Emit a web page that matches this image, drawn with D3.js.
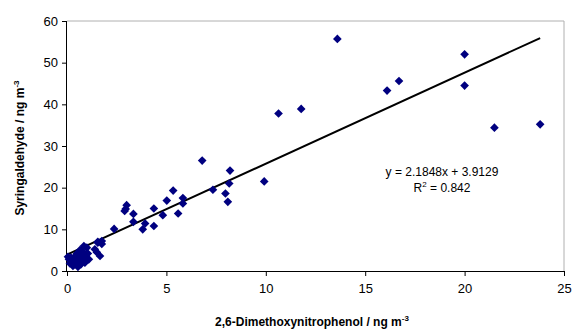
<!doctype html>
<html lang="en">
<head>
<meta charset="utf-8" />
<title>Syringaldehyde vs 2,6-Dimethoxynitrophenol</title>
<script src="https://d3js.org/d3.v7.min.js"></script>
<style>
  body { margin: 0; background: #fff; }
  text { font-family: "Liberation Sans", Arial, sans-serif; }
</style>
</head>
<body>
<svg></svg>
<script>
// data (ng m-3)
let dmnp = [0.05, 0.1, 0.15, 0.2, 0.25, 0.3, 0.35, 0.4, 0.4, 0.45, 0.5, 0.5, 0.55, 0.6, 0.6, 0.65, 0.7, 0.7, 0.75, 0.8,
            0.85, 0.85, 0.9, 0.95, 1.0, 1.05, 1.1, 1.4, 1.5, 1.55, 1.66, 1.75, 1.55, 1.75,
            2.37, 2.9, 2.95, 3.0, 3.34, 3.34, 3.81, 3.93, 4.37, 4.37, 4.82, 5.02, 5.34, 5.59, 5.83, 5.83,
            6.8, 7.34, 7.97, 8.09, 8.16, 8.2, 9.92, 10.64, 11.78, 13.6, 16.1, 16.7, 20.0, 20.0, 21.5, 23.8]
let syr  = [3.4, 2.8, 1.8, 3.2, 2.2, 1.2, 2.6, 3.5, 1.6, 2.0, 2.9, 4.2, 1.0, 3.3, 2.2, 5.0, 1.6, 3.8, 2.6, 4.6,
            3.0, 6.0, 2.0, 3.6, 5.6, 4.2, 2.8, 5.2, 4.5, 6.8, 3.6, 6.5, 7.0, 7.2,
            10.1, 14.4, 14.9, 15.8, 13.7, 11.8, 10.0, 11.4, 15.0, 10.8, 13.4, 16.9, 19.3, 13.8, 17.5, 16.2,
            26.5, 19.5, 18.6, 16.6, 21.0, 24.1, 21.5, 37.8, 38.9, 55.7, 43.3, 45.6, 52.0, 44.5, 34.4, 35.2]

let xTicks = [0, 5, 10, 15, 20, 25]
let yTicks = [0, 10, 20, 30, 40, 50, 60]

// trendline as printed on the chart
let slope = 2.1848, intercept = 3.9129, r2 = 0.842

let width = 580, height = 333

let svg = d3.select("svg")
    .attr("width", width)
    .attr("height", height)

let x = d3.scaleLinear().domain([0, 25]).range([67, 564])
let y = d3.scaleLinear().domain([0, 60]).range([271, 21])

// plot area frame (grey top/right)
svg.append("path")
    .attr("d", `M${x(0)},${y(60)}H${x(25)}V${y(0)}`)
    .attr("fill", "none")
    .attr("stroke", "#b0b0b0")
    .attr("stroke-width", 1)

let xAxis = svg.append("g")
    .attr("transform", `translate(0,${y(0)})`)
    .call(d3.axisBottom(x).tickValues(xTicks).tickSize(5).tickPadding(8))
let yAxis = svg.append("g")
    .attr("transform", `translate(${x(0)},0)`)
    .call(d3.axisLeft(y).tickValues(yTicks).tickSize(5).tickPadding(4))

svg.selectAll(".domain").attr("stroke", "#000")
svg.selectAll(".tick line").attr("stroke", "#000")
svg.selectAll(".tick text")
    .attr("fill", "#000")
    .style("font-size", "13px")
    .style("font-family", "Liberation Sans, Arial, sans-serif")
yAxis.selectAll(".domain").attr("d", `M-0.5,${y(60)}V${y(0)}`)

// trendline
let xMax = d3.max(dmnp)
svg.append("line")
    .attr("x1", x(0)).attr("y1", y(intercept))
    .attr("x2", x(xMax)).attr("y2", y(intercept + slope * xMax))
    .attr("stroke", "#000")
    .attr("stroke-width", 2)

// points
let diamond = d3.symbol().type(d3.symbolDiamond2).size(48)
svg.append("g").selectAll("path")
    .data(dmnp.map((d, i) => [d, syr[i]]))
    .enter()
    .append("path")
        .attr("d", diamond)
        .attr("transform", d => `translate(${x(d[0])},${y(d[1])})`)
        .attr("fill", "#000080")

// equation
let eq = svg.append("g").style("font-size", "12px")
eq.append("text")
    .attr("x", 442).attr("y", 176)
    .attr("text-anchor", "middle")
    .text(`y = ${slope}x + ${intercept}`)
let r = eq.append("text")
    .attr("x", 442).attr("y", 192)
    .attr("text-anchor", "middle")
r.append("tspan").text("R")
r.append("tspan").attr("dy", -5).style("font-size", "8px").text("2")
r.append("tspan").attr("dy", 5).text(` = ${r2}`)

// axis titles
let xt = svg.append("text")
    .attr("x", 312).attr("y", 326)
    .attr("text-anchor", "middle")
    .style("font-size", "12px").style("font-weight", "bold")
xt.append("tspan").text("2,6-Dimethoxynitrophenol / ng m")
xt.append("tspan").attr("dy", -5).style("font-size", "8px").text("-3")

let yt = svg.append("text")
    .attr("transform", "translate(24,148) rotate(-90)")
    .attr("text-anchor", "middle")
    .style("font-size", "12px").style("font-weight", "bold")
yt.append("tspan").text("Syringaldehyde / ng m")
yt.append("tspan").attr("dy", -5).style("font-size", "8px").text("-3")
</script>
</body>
</html>
